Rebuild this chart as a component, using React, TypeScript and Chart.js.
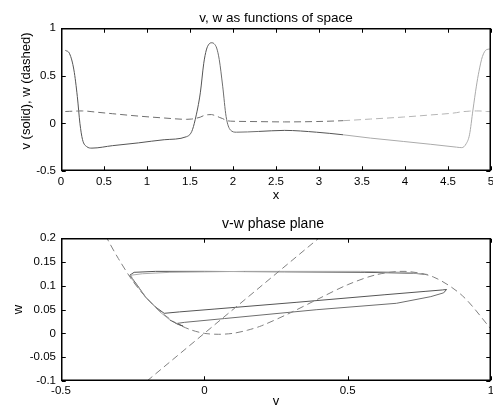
import { useEffect, useRef } from "react";
import { Chart, registerables } from "chart.js";

Chart.register(...registerables);

// ---- Spatial profile (top plot): position, v (solid), w (dashed) ----
const xPos = [0.05, 0.1, 0.15, 0.19, 0.22, 0.25, 0.3, 0.36, 0.6, 0.9, 1.2, 1.46, 1.52, 1.56, 1.62, 1.66, 1.69, 1.72, 1.75, 1.78, 1.81, 1.84, 1.88, 1.92, 1.97, 2.04, 2.3, 2.6, 2.97, 3.28, 3.6, 3.98, 4.3, 4.6, 4.66, 4.71, 4.75, 4.79, 4.83, 4.86, 4.9, 4.95, 5.0];
const vVals = [0.766, 0.73, 0.56, 0.28, 0.0, -0.17, -0.245, -0.26, -0.234, -0.205, -0.172, -0.14, -0.086, 0.037, 0.32, 0.63, 0.77, 0.83, 0.845, 0.835, 0.79, 0.67, 0.39, 0.07, -0.07, -0.093, -0.085, -0.074, -0.093, -0.12, -0.155, -0.19, -0.22, -0.25, -0.255, -0.216, -0.12, 0.14, 0.39, 0.545, 0.7, 0.774, 0.78];
const wVals = [0.124, 0.126, 0.128, 0.129, 0.13, 0.13, 0.128, 0.122, 0.101, 0.076, 0.056, 0.042, 0.045, 0.051, 0.065, 0.081, 0.088, 0.091, 0.092, 0.085, 0.077, 0.063, 0.0495, 0.031, 0.023, 0.021, 0.018, 0.015, 0.019, 0.028, 0.045, 0.066, 0.088, 0.112, 0.122, 0.125, 0.128, 0.13, 0.13, 0.13, 0.128, 0.124, 0.123];

// ---- Nullclines (bottom plot) ----
const cubicV = [-0.36, -0.34, -0.3, -0.25, -0.2, -0.15, -0.1, -0.05, 0, 0.05, 0.1, 0.15, 0.2, 0.3, 0.4, 0.5, 0.6, 0.7, 0.8, 0.9, 1.0];
const cubicW = [0.227, 0.2, 0.157, 0.11, 0.073, 0.044, 0.022, 0.008, 0, -0.002, 0, 0.0065, 0.016, 0.043, 0.073, 0.102, 0.123, 0.13, 0.118, 0.079, 0.009];
const lineV = [-0.2, 0.4];
const lineW = [-0.1, 0.2];

// ---- Ticks ----
const topXTicks = [0, 0.5, 1, 1.5, 2, 2.5, 3, 3.5, 4, 4.5, 5];
const topXLabels = ["0", "0.5", "1", "1.5", "2", "2.5", "3", "3.5", "4", "4.5", "5"];
const topYTicks = [-0.5, 0, 0.5, 1];
const topYLabels = ["-0.5", "0", "0.5", "1"];
const phaseXTicks = [-0.5, 0, 0.5, 1];
const phaseXLabels = ["-0.5", "0", "0.5", "1"];
const phaseYTicks = [-0.1, -0.05, 0, 0.05, 0.1, 0.15, 0.2];
const phaseYLabels = ["-0.1", "-0.05", "0", "0.05", "0.1", "0.15", "0.2"];

// ---- Texts ----
const topTitle = "v, w as functions of space";
const topXTitle = "x";
const topYTitle = "v (solid), w (dashed)";
const botTitle = "v-w phase plane";
const botXTitle = "v";
const botYTitle = "w";

const FONT = '"Liberation Sans", Arial, Helvetica, sans-serif';

function vShade(x: number) {
  if (x >= 3.25) return "#ababab";
  if (x >= 1.76 && x < 2.1) return "#6e6e6e";
  return "#555555";
}
function wShade(x: number) {
  return x >= 3.25 ? "#b5b5b5" : "#707070";
}

type FrameSpec = {
  title: string;
  titleBase: number;
  titleDx: number;
  titleSize: number;
  xTitle: string;
  xTitleBase: number;
  yTitle: string;
  yTitleBase: number;
  yTitleCenter: number;
};

function makeFrame(spec: FrameSpec) {
  return {
    id: "matlabFrame",
    afterDatasetsDraw(chart: any) {
      const { ctx, chartArea: a, scales } = chart;
      ctx.save();
      ctx.strokeStyle = "#000";
      ctx.lineWidth = 1.5;
      const L = Math.round(a.left) + 0.75;
      const R = Math.round(a.right) - 0.75;
      const T = Math.round(a.top) + 0.75;
      const B = Math.round(a.bottom) - 0.75;
      ctx.strokeRect(L, T, R - L, B - T);
      ctx.lineWidth = 1;
      const tl = 4;
      ctx.beginPath();
      for (const t of scales.x.ticks) {
        const px = Math.round(scales.x.getPixelForValue(t.value)) + 0.5;
        ctx.moveTo(px, B);
        ctx.lineTo(px, B - tl);
        ctx.moveTo(px, T);
        ctx.lineTo(px, T + tl);
      }
      for (const t of scales.y.ticks) {
        const py = Math.round(scales.y.getPixelForValue(t.value)) + 0.5;
        ctx.moveTo(L, py);
        ctx.lineTo(L + tl, py);
        ctx.moveTo(R, py);
        ctx.lineTo(R - tl, py);
      }
      ctx.stroke();

      ctx.fillStyle = "#000";
      ctx.textAlign = "center";
      ctx.textBaseline = "alphabetic";
      const cx = (a.left + a.right) / 2;
      ctx.font = `${spec.titleSize}px ${FONT}`;
      ctx.fillText(spec.title, cx + spec.titleDx, spec.titleBase);
      ctx.font = `13px ${FONT}`;
      ctx.fillText(spec.xTitle, cx, spec.xTitleBase);
      ctx.save();
      ctx.translate(spec.yTitleBase, spec.yTitleCenter);
      ctx.rotate(-Math.PI / 2);
      ctx.fillText(spec.yTitle, 0, 0);
      ctx.restore();
      ctx.restore();
    },
  };
}

function axisX(min: number, max: number, ticks: number[], labels: string[], height: number, pad: number) {
  return {
    type: "linear",
    min,
    max,
    grid: { display: false, drawTicks: false },
    border: { display: false },
    afterBuildTicks: (s: any) => {
      s.ticks = ticks.map((v) => ({ value: v }));
    },
    afterFit: (s: any) => {
      s.height = height;
      s.paddingLeft = 0;
      s.paddingRight = 0;
    },
    ticks: {
      autoSkip: false,
      maxRotation: 0,
      minRotation: 0,
      padding: pad,
      color: "#000",
      font: { size: 11.5, family: FONT, lineHeight: 1 },
      callback: (val: number) => {
        const i = ticks.findIndex((t) => Math.abs(t - val) < 1e-9);
        return i >= 0 ? labels[i] : "";
      },
    },
  };
}

function axisY(min: number, max: number, ticks: number[], labels: string[]) {
  return {
    type: "linear",
    min,
    max,
    grid: { display: false, drawTicks: false },
    border: { display: false },
    afterBuildTicks: (s: any) => {
      s.ticks = ticks.map((v) => ({ value: v }));
    },
    afterFit: (s: any) => {
      s.width = 61;
      s.paddingTop = 0;
      s.paddingBottom = 0;
    },
    ticks: {
      autoSkip: false,
      padding: 5,
      color: "#000",
      font: { size: 11.5, family: FONT, lineHeight: 1 },
      callback: (val: number) => {
        const i = ticks.findIndex((t) => Math.abs(t - val) < 1e-9);
        return i >= 0 ? labels[i] : "";
      },
    },
  };
}

const baseOptions = {
  responsive: false,
  maintainAspectRatio: false,
  devicePixelRatio: 1,
  animation: false,
  events: [],
  plugins: { legend: { display: false }, tooltip: { enabled: false }, title: { display: false } },
};

export default function App() {
  const topRef = useRef<HTMLCanvasElement>(null);
  const botRef = useRef<HTMLCanvasElement>(null);

  useEffect(() => {
    const topChart = new Chart(topRef.current as HTMLCanvasElement, {
      type: "line",
      data: {
        datasets: [
          {
            data: xPos.map((x, i) => ({ x, y: wVals[i] })),
            borderColor: "#707070",
            borderWidth: 1,
            borderDash: [7, 4],
            pointRadius: 0,
            cubicInterpolationMode: "monotone",
            segment: { borderColor: (c: any) => wShade(xPos[c.p0DataIndex]) },
          },
          {
            data: xPos.map((x, i) => ({ x, y: vVals[i] })),
            borderColor: "#555555",
            borderWidth: 1,
            pointRadius: 0,
            cubicInterpolationMode: "monotone",
            segment: { borderColor: (c: any) => vShade(xPos[c.p0DataIndex]) },
          },
        ],
      },
      options: {
        ...baseOptions,
        layout: { padding: { top: 28, right: 2, bottom: 0, left: 0 } },
        scales: {
          x: axisX(0, 5, topXTicks, topXLabels, 33, 5.5),
          y: axisY(-0.5, 1, topYTicks, topYLabels),
        },
      } as any,
      plugins: [
        makeFrame({
          title: topTitle,
          titleBase: 21.5,
          titleDx: 0,
          titleSize: 13.5,
          xTitle: topXTitle,
          xTitleBase: 198.5,
          yTitle: topYTitle,
          yTitleBase: 29.5,
          yTitleCenter: 91,
        }),
      ],
    } as any);

    const botChart = new Chart(botRef.current as HTMLCanvasElement, {
      type: "line",
      data: {
        datasets: [
          {
            data: cubicV.map((v, i) => ({ x: v, y: cubicW[i] })),
            borderColor: "#808080",
            borderWidth: 1,
            borderDash: [7, 4],
            pointRadius: 0,
            tension: 0.3,
          },
          {
            data: lineV.map((v, i) => ({ x: v, y: lineW[i] })),
            borderColor: "#808080",
            borderWidth: 1,
            borderDash: [7, 4],
            pointRadius: 0,
          },
          {
            data: vVals.map((v, i) => ({ x: v, y: wVals[i] })),
            borderColor: "#555555",
            borderWidth: 1,
            pointRadius: 0,
            tension: 0,
            segment: { borderColor: (c: any) => vShade(xPos[c.p0DataIndex]) },
          },
        ],
      },
      options: {
        ...baseOptions,
        layout: { padding: { top: 34, right: 2, bottom: 0, left: 0 } },
        scales: {
          x: axisX(-0.5, 1, phaseXTicks, phaseXLabels, 27, 4),
          y: axisY(-0.1, 0.2, phaseYTicks, phaseYLabels),
        },
      } as any,
      plugins: [
        makeFrame({
          title: botTitle,
          titleBase: 24.3,
          titleDx: -3,
          titleSize: 14,
          xTitle: botXTitle,
          xTitleBase: 201,
          yTitle: botYTitle,
          yTitleBase: 22,
          yTitleCenter: 105.5,
        }),
      ],
    } as any);

    return () => {
      topChart.destroy();
      botChart.destroy();
    };
  }, []);

  return (
    <div style={{ position: "fixed", left: 0, top: 0, width: 493, height: 408, background: "#fff" }}>
      <canvas
        ref={topRef}
        width={493}
        height={204}
        style={{ position: "absolute", left: 0, top: 0, width: 493, height: 204 }}
      />
      <canvas
        ref={botRef}
        width={493}
        height={204}
        style={{ position: "absolute", left: 0, top: 204, width: 493, height: 204 }}
      />
    </div>
  );
}
